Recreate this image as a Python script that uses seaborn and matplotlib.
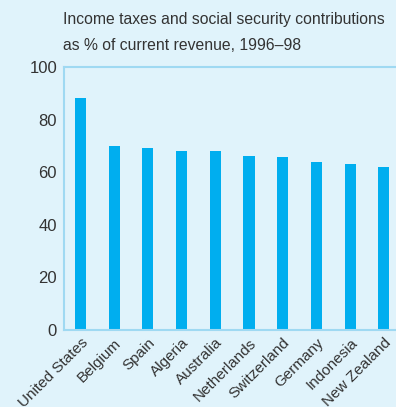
import matplotlib
matplotlib.use("Agg")
import matplotlib.pyplot as plt
import seaborn as sns
import pandas as pd

countries = ["United States", "Belgium", "Spain", "Algeria", "Australia",
             "Netherlands", "Switzerland", "Germany", "Indonesia", "New Zealand"]
shares = [88.2, 70.0, 69.2, 68.0, 68.0, 66.2, 66.0, 64.0, 63.1, 62.0]
yticks = [0, 20, 40, 60, 80, 100]

bg = "#E0F3FB"
bar_color = "#00AEEF"
spine_color = "#9FD9F2"

sns.set_style("white")
plt.rcParams['font.family'] = ['Liberation Sans', 'DejaVu Sans']

df = pd.DataFrame({"country": countries, "share": shares})

fig = plt.figure(figsize=(3.96, 4.07), dpi=100, facecolor=bg)
ax = fig.add_axes([0.1616, 0.189, 0.8384, 0.646], facecolor=bg)

sns.barplot(data=df, x="country", y="share", color=bar_color, width=0.33,
            saturation=1, linewidth=0, ax=ax)

ax.set_xlim(-0.49, 9.36)
ax.set_ylim(0, 100)
ax.set_yticks(yticks)
ax.set_xlabel("")
ax.set_ylabel("")
ax.tick_params(axis="both", length=0, colors="#333333")
ax.tick_params(axis="y", pad=5, labelsize=12)
ax.tick_params(axis="x", pad=4, labelsize=11)
plt.setp(ax.get_xticklabels(), rotation=45, ha="right", rotation_mode="anchor")

for side in ["left", "bottom", "top"]:
    ax.spines[side].set_color(spine_color)
    ax.spines[side].set_linewidth(1.5)
ax.spines["right"].set_visible(False)

fig.text(0.159, 0.92, "Income taxes and social security contributions\nas % of current revenue, 1996\u201398",
         fontsize=11.3, color="#333333", ha="left", va="center", linespacing=1.85)

fig.savefig("out.png", dpi=100, facecolor=bg)
